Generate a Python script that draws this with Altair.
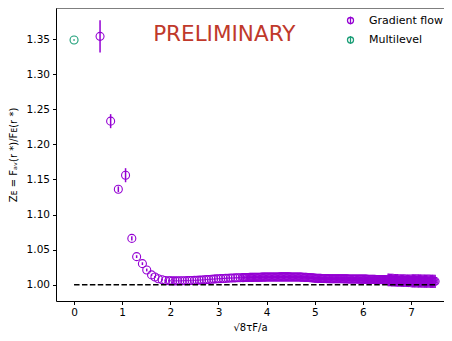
import altair as alt
import pandas as pd

# ---- data ----
series_names = ["Gradient flow", "Multilevel"]
series_colors = ["#9400d3", "#1b9e77"]

gf_x = [0.54, 0.76, 0.92, 1.07, 1.20, 1.30, 1.42, 1.51, 1.61, 1.68, 1.75, 1.83, 1.90, 1.97,
        2.00, 2.05, 2.10, 2.15, 2.20, 2.25, 2.30, 2.35, 2.40, 2.45, 2.50,
        2.55, 2.60, 2.65, 2.70, 2.75, 2.80, 2.85, 2.90, 2.95, 3.00,
        3.05, 3.10, 3.15, 3.20, 3.25, 3.30, 3.35, 3.40, 3.45, 3.50,
        3.525, 3.55, 3.575, 3.60, 3.625, 3.65, 3.675, 3.70, 3.725, 3.75,
        3.775, 3.80, 3.825, 3.85, 3.875, 3.90, 3.925, 3.95, 3.975, 4.00,
        4.025, 4.05, 4.075, 4.10, 4.125, 4.15, 4.175, 4.20, 4.225, 4.25,
        4.275, 4.30, 4.325, 4.35, 4.375, 4.40, 4.425, 4.45, 4.475, 4.50,
        4.525, 4.55, 4.575, 4.60, 4.625, 4.65, 4.675, 4.70, 4.725, 4.75,
        4.775, 4.80, 4.825, 4.85, 4.875, 4.90, 4.925, 4.95, 4.975, 5.00,
        5.025, 5.05, 5.075, 5.10, 5.125, 5.15, 5.175, 5.20, 5.225, 5.25,
        5.275, 5.30, 5.325, 5.35, 5.375, 5.40, 5.425, 5.45, 5.475, 5.50,
        5.525, 5.55, 5.575, 5.60, 5.625, 5.65, 5.675, 5.70, 5.725, 5.75,
        5.775, 5.80, 5.825, 5.85, 5.875, 5.90, 5.925, 5.95, 5.975, 6.00,
        6.025, 6.05, 6.075, 6.10, 6.125, 6.15, 6.175, 6.20, 6.225, 6.25,
        6.275, 6.30, 6.325, 6.35, 6.375, 6.40, 6.425, 6.45, 6.475, 6.50,
        6.525, 6.55, 6.575, 6.60, 6.625, 6.65, 6.675, 6.70, 6.725, 6.75,
        6.775, 6.80, 6.825, 6.85, 6.875, 6.90, 6.925, 6.95, 6.975, 7.00,
        7.025, 7.05, 7.075, 7.10, 7.125, 7.15, 7.175, 7.20, 7.225, 7.25,
        7.275, 7.30, 7.325, 7.35, 7.375, 7.40, 7.425, 7.45, 7.475, 7.50]
gf_y = [1.3538, 1.233, 1.136, 1.156, 1.066, 1.040, 1.030, 1.021, 1.014, 1.011, 1.0085, 1.007, 1.006, 1.0057,
        1.0056, 1.0055, 1.0055, 1.0055, 1.0056, 1.0056, 1.0057, 1.0058, 1.0059, 1.0060, 1.0062,
        1.0064, 1.0066, 1.0068, 1.0070, 1.0073, 1.0075, 1.0078, 1.0080, 1.0083, 1.0085,
        1.0087, 1.0089, 1.0091, 1.0093, 1.0095, 1.0096, 1.0098, 1.0099, 1.0100, 1.0101,
        1.0101, 1.0102, 1.0102, 1.0103, 1.0103, 1.0104, 1.0104, 1.0105, 1.0105, 1.0106,
        1.0106, 1.0107, 1.0107, 1.0107, 1.0107, 1.0108, 1.0108, 1.0108, 1.0108, 1.0109,
        1.0109, 1.0109, 1.0109, 1.0110, 1.0110, 1.0110, 1.0110, 1.0110, 1.0110, 1.0110,
        1.0111, 1.0111, 1.0111, 1.0111, 1.0111, 1.0111, 1.0111, 1.0111, 1.0111, 1.0110,
        1.0110, 1.0110, 1.0110, 1.0110, 1.0110, 1.0109, 1.0109, 1.0108, 1.0108, 1.0107,
        1.0106, 1.0105, 1.0104, 1.0103, 1.0102, 1.0100, 1.0099, 1.0097, 1.0096, 1.0094,
        1.0093, 1.0092, 1.0091, 1.0090, 1.0090, 1.0089, 1.0089, 1.0088, 1.0088, 1.0087,
        1.0087, 1.0086, 1.0086, 1.0086, 1.0086, 1.0085, 1.0085, 1.0085, 1.0085, 1.0084,
        1.0084, 1.0084, 1.0084, 1.0083, 1.0083, 1.0083, 1.0083, 1.0082, 1.0082, 1.0082,
        1.0082, 1.0081, 1.0081, 1.0081, 1.0081, 1.0080, 1.0080, 1.0080, 1.0080, 1.0079,
        1.0079, 1.0079, 1.0079, 1.0078, 1.0078, 1.0078, 1.0077, 1.0077, 1.0076, 1.0076,
        1.0075, 1.0075, 1.0074, 1.0074, 1.0073, 1.0073, 1.0072, 1.0072, 1.0071, 1.0070,
        1.0069, 1.0068, 1.0067, 1.0066, 1.0065, 1.0064, 1.0063, 1.0062, 1.0061, 1.0060,
        1.0060, 1.0059, 1.0059, 1.0058, 1.0058, 1.0057, 1.0057, 1.0056, 1.0056, 1.0055,
        1.0055, 1.0055, 1.0054, 1.0054, 1.0054, 1.0053, 1.0053, 1.0053, 1.0052, 1.0052,
        1.0051, 1.0051, 1.0050, 1.0050, 1.0050, 1.0049, 1.0049, 1.0049, 1.0048, 1.0048]
gf_err = [0.023, 0.010, 0.004, 0.010, 0.003, 0.002, 0.002, 0.002, 0.0015, 0.0015, 0.001, 0.001, 0.001, 0.001,
          0.0005, 0.0005, 0.0005, 0.0005, 0.0005, 0.0005, 0.0005, 0.0005, 0.0005, 0.0005, 0.0005,
          0.0006, 0.0006, 0.0006, 0.0006, 0.0006, 0.0006, 0.0006, 0.0006, 0.0006, 0.0006,
          0.0008, 0.0008, 0.0008, 0.0008, 0.0008, 0.0008, 0.0008, 0.0008, 0.0008, 0.0008,
          0.0010, 0.0010, 0.0010, 0.0010, 0.0010, 0.0010, 0.0010, 0.0010, 0.0010, 0.0010,
          0.0010, 0.0010, 0.0010, 0.0010, 0.0010, 0.0010, 0.0010, 0.0010, 0.0010, 0.0010,
          0.0013, 0.0013, 0.0013, 0.0013, 0.0013, 0.0013, 0.0013, 0.0013, 0.0013, 0.0013,
          0.0013, 0.0013, 0.0013, 0.0013, 0.0013, 0.0013, 0.0013, 0.0013, 0.0013, 0.0013,
          0.0017, 0.0017, 0.0017, 0.0017, 0.0017, 0.0017, 0.0017, 0.0017, 0.0017, 0.0017,
          0.0017, 0.0017, 0.0017, 0.0017, 0.0017, 0.0017, 0.0017, 0.0017, 0.0017, 0.0017,
          0.0022, 0.0022, 0.0022, 0.0022, 0.0022, 0.0022, 0.0022, 0.0022, 0.0022, 0.0022,
          0.0022, 0.0022, 0.0022, 0.0022, 0.0022, 0.0022, 0.0022, 0.0022, 0.0022, 0.0022,
          0.0028, 0.0028, 0.0028, 0.0028, 0.0028, 0.0028, 0.0028, 0.0028, 0.0028, 0.0028,
          0.0028, 0.0028, 0.0028, 0.0028, 0.0028, 0.0028, 0.0028, 0.0028, 0.0028, 0.0028,
          0.0036, 0.0036, 0.0036, 0.0036, 0.0036, 0.0036, 0.0036, 0.0036, 0.0036, 0.0036,
          0.0036, 0.0036, 0.0036, 0.0036, 0.0036, 0.0036, 0.0036, 0.0036, 0.0036, 0.0036,
          0.0090, 0.0090, 0.0090, 0.0090, 0.0090, 0.0090, 0.0090, 0.0090, 0.0090, 0.0090,
          0.0090, 0.0090, 0.0090, 0.0090, 0.0090, 0.0090, 0.0090, 0.0090, 0.0090, 0.0090,
          0.0095, 0.0095, 0.0095, 0.0095, 0.0095, 0.0095, 0.0095, 0.0095, 0.0095, 0.0095,
          0.0095, 0.0095, 0.0095, 0.0095, 0.0095, 0.0095, 0.0095, 0.0095, 0.0095, 0.0095]

ml_x = [0.0]
ml_y = [1.3486]
ml_err = [0.0012]

ref_x = [0.0, 7.5]
ref_y = [1.0, 1.0]

x_ticks = [0, 1, 2, 3, 4, 5, 6, 7]
y_ticks = [1.00, 1.05, 1.10, 1.15, 1.20, 1.25, 1.30, 1.35]

label_text = ["PRELIMINARY"]
label_x = [3.12]
label_y = [1.356]

W, H = 388, 293

# ---- tables ----
pts = pd.concat([
    pd.DataFrame({"x": gf_x, "y": gf_y, "err": gf_err, "series": series_names[0]}),
    pd.DataFrame({"x": ml_x, "y": ml_y, "err": ml_err, "series": series_names[1]}),
], ignore_index=True)
pts["lo"] = pts["y"] - pts["err"]
pts["hi"] = pts["y"] + pts["err"]

ref = pd.DataFrame({"x": ref_x, "y": ref_y})
lab = pd.DataFrame({"x": label_x, "y": label_y, "t": label_text})

xscale = alt.Scale(domain=[-0.375, 7.685], nice=False, zero=False)
yscale = alt.Scale(domain=[0.9768, 1.3942], nice=False, zero=False)
cscale = alt.Scale(domain=series_names, range=series_colors)

xaxis = alt.Axis(values=x_ticks, format="d", title="√8τF/a", grid=False)
yaxis = alt.Axis(values=y_ticks, format=".2f", title="Zᴇ = Fₐᵥ(r *)/Fᴇ(r *)", grid=False)

legend_symbol = "M0,-1 L0,1 M-0.75,0 A0.75,0.75 0 1,0 0.75,0 A0.75,0.75 0 1,0 -0.75,0"
leg = alt.Legend(
    title=None, orient="none", legendX=289, legendY=7,
    symbolType=legend_symbol, symbolSize=64, symbolStrokeWidth=1.3,
    labelFont="DejaVu Sans", labelFontSize=11, labelColor="black",
    labelOffset=13, rowPadding=4.5, padding=0,
)

base = alt.Chart(pts)

bars = base.mark_rule(strokeWidth=1.5).encode(
    x=alt.X("x:Q", scale=xscale, axis=xaxis),
    y=alt.Y("lo:Q", scale=yscale, axis=yaxis),
    y2="hi:Q",
    color=alt.Color("series:N", scale=cscale, sort=series_names, legend=leg),
)

points = base.mark_point(shape="circle", filled=False, size=64, strokeWidth=1.1, opacity=1).encode(
    x=alt.X("x:Q", scale=xscale),
    y=alt.Y("y:Q", scale=yscale),
    color=alt.Color("series:N", scale=cscale, sort=series_names, legend=leg),
)

line = alt.Chart(ref).mark_line(color="black", strokeWidth=1.5, strokeDash=[5.5, 2.4]).encode(
    x=alt.X("x:Q", scale=xscale),
    y=alt.Y("y:Q", scale=yscale),
)

text = alt.Chart(lab).mark_text(
    font="DejaVu Sans", fontSize=21.5, color="#c0392b", align="center", baseline="middle"
).encode(
    x=alt.X("x:Q", scale=xscale),
    y=alt.Y("y:Q", scale=yscale),
    text="t:N",
)

# top spine (the right spine lies outside the visible window in the reference)
top_spine = alt.Chart(lab).mark_rule(color="black", strokeWidth=1).encode(
    x=alt.value(0), x2=alt.value(W), y=alt.value(0)
)

chart = alt.layer(bars, points, line, text, top_spine).properties(
    width=W, height=H,
    autosize=alt.AutoSizeParams(type="none"),
    padding={"left": 48, "top": 0, "right": 0, "bottom": 32},
).configure_view(
    stroke=None
).configure_axis(
    labelFont="DejaVu Sans", labelFontSize=10.5, labelColor="black",
    titleFont="DejaVu Sans", titleFontSize=10, titleFontWeight="normal", titleColor="black",
    domainColor="black", domainWidth=1, tickColor="black", tickWidth=1, tickSize=3.5,
    labelPadding=3,
).configure_axisY(titlePadding=8).configure_axisX(titlePadding=4)

chart.save("out.html", embed_options={"renderer": "svg", "actions": False})
